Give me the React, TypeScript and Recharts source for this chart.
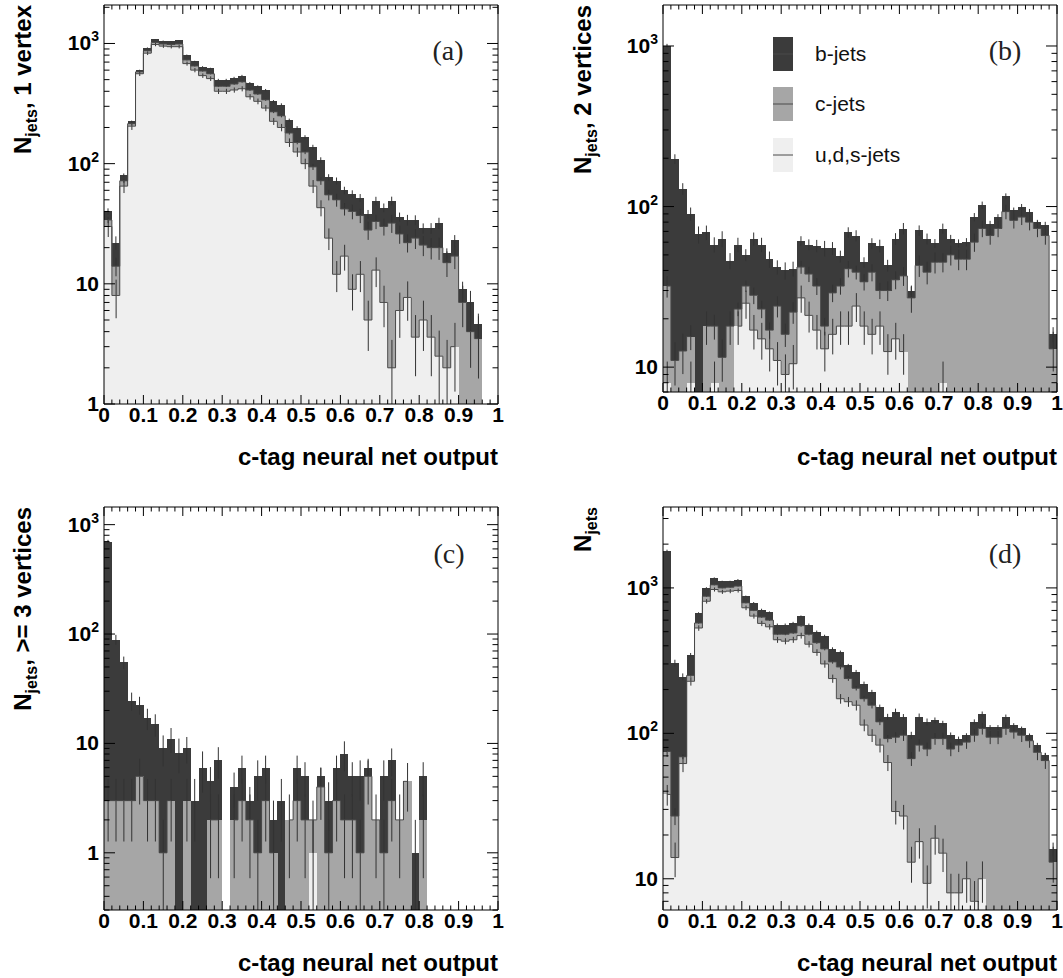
import React from 'react';
import { ComposedChart, Bar, Line, XAxis, YAxis, ErrorBar } from 'recharts';

const FONT = '"Liberation Sans", Arial, Helvetica, sans-serif';
const SERIF = '"Liberation Serif", "Times New Roman", serif';

const DARK = '#3b3b3b';
const MID = '#a6a6a6';
const LIGHT = '#efefef';
const EDGE = '#4a4a4a';

// 50 bins of width 0.02 along the c-tag output; ticks sit on bin edges
const bins = Array.from({ length: 50 }, (_, i) => i);
const xLabels = ['0', '0.1', '0.2', '0.3', '0.4', '0.5', '0.6', '0.7', '0.8', '0.9', '1'];

// stacked tops: all = b+c+uds, cl = c+uds, l = uds
const aAll = [40, 22, 80, 225, 600, 920, 1080, 1050, 1040, 1060, 800, 710, 640, 620, 500, 500, 520, 540, 470, 440,
  410, 330, 310, 230, 198, 166, 137, 107, 77, 72, 60, 56, 52, 38, 49, 43, 49, 36, 34, 34,
  29, 29, 32, 18, 23, 9, 7, 4.6, null, null];
const aCL = [34, 14, 72, 215, 580, 870, 1020, 990, 980, 990, 730, 650, 590, 560, 440, 440, 460, 480, 410, 380,
  340, 270, 250, 180, 150, 125, 94, 72, 55, 50, 42, 40, 37, 28, 33, 30, 32, 26, 22, 24,
  21, 20, 20, 15, 17, 7, 4, 3.5, null, null];
const aL = [30, 8, 65, 205, 560, 830, 980, 950, 940, 940, 680, 600, 540, 510, 400, 400, 410, 420, 360, 330,
  290, 225, 200, 150, 125, 100, 65, 43, 24, 12, 17, 9, 12, 5, 13, 7, 2, 6, 7.7, 3.6,
  5, 3.6, 2.5, 2, 3, null, null, null, null, null];

const bAll = [1000, 198, 129, 90, 67, 69, 58, 63, 46, 58, 50, 63, 58, 47, 42, 40, 41, 61, 58, 57,
  55, 55, 49, 69, 66, 45, 59, 57, 43, 63, 73, 30, 71, 63, 59, 73, 63, 59, 60, 86,
  102, 78, 86, 116, 95, 100, 93, 80, 77, 16];
const bCL = [32, 11, 12.6, 15.5, null, 18, 18, 11.5, 18, 23, 32, 28, 23, 17, 24, 16, 22, 42, 38, 32,
  18, 29, 32, 41, 39, 34, 39, 30, 30, 35, 37, 27, 43, 39, 45, 45, 50, 47, 47, 60,
  73, 66, 73, 93, 82, 86, 80, 73, 66, 13];
const bL = [8, null, null, 8, null, null, 8, null, null, 18, 25, 17, 15, 13, 11, 9, 10.5, 27, 21, 17,
  13, 16, 18, 18, 24, 18, 16, 18, 12.5, 15, 12.5, null, null, null, null, 8, null, null, null, null,
  null, null, null, null, null, null, null, null, null, null];

const cAll = [700, 89, 55, 24.5, 22.5, 17, 15, 9, 11, 8.2, 9, 3, 6, 4.5, 7, null, 4, 6, 3, 5,
  6, 2, 3, 2, 6, 5, 2, 5, 3, 6, 8, 5, 5, 6, 2, 5, 7, 2, 4.5, 1,
  5, null, null, null, null, null, null, null, null, null];
const cCL = [3, 3, 3, 3, 5, 3, 3, 1, 3, null, 3, null, null, 2, 2, null, 2, 3, 2, 1,
  3, 1, null, 2, 3, 2, 2, 4, 1, 3, 2, 2, 1, 5, 2, 1, 3, 2, 4.5, null,
  2, null, null, null, null, null, null, null, null, null];
const cL = [null, null, null, null, null, null, null, null, null, null, null, null, null, null, null, null, null, null, null, null,
  null, null, null, null, null, null, 1, null, null, null, null, null, null, null, null, null, null, null, null, null,
  null, null, null, null, null, null, null, null, null, null];

const dAll = [1790, 304, 245, 347, 670, 1000, 1170, 1110, 1110, 1140, 876, 790, 710, 680, 560, 560, 575, 637, 560, 500,
  467, 382, 362, 293, 265, 220, 193, 152, 130, 141, 130, 97, 130, 120, 123, 117, 97, 92, 97, 120,
  136, 110, 110, 130, 114, 108, 97, 83, 71, 16];
const dCL = [75, 27, 69, 250, 574, 876, 1050, 1000, 1010, 1030, 790, 700, 630, 600, 480, 480, 490, 550, 480, 420,
  381, 310, 286, 238, 204, 173, 156, 120, 92, 94, 97, 67, 83, 78, 92, 92, 78, 83, 87, 97,
  108, 94, 94, 108, 102, 97, 89, 74, 65, 13];
const dL = [38, 14, 62, 228, 530, 809, 975, 940, 950, 960, 730, 640, 570, 540, 440, 430, 440, 470, 410, 360,
  300, 238, 173, 165, 156, 114, 97, 83, 63, 29, 27, 13, 18, 9.3, 19, 15, 8, 8, 10, 7,
  10, null, null, null, null, null, null, null, null, null];

const logTicks = (lo: number, hi: number) => {
  const out: number[] = [];
  for (let e = Math.floor(Math.log10(lo)); e <= Math.ceil(Math.log10(hi)); e++) {
    for (let m = 1; m < 10; m++) {
      const v = Number((m * Math.pow(10, e)).toPrecision(3));
      if (v >= lo && v <= hi) out.push(v);
    }
  }
  return out;
};

const isDecade = (v: number) => Math.abs(Math.log10(v) - Math.round(Math.log10(v))) < 1e-9;

// poisson error of the layer's own count, drawn at the layer's top (kept inside the frame)
const err = (top: string, below: string | null, lo: number, hi: number) => (d: any) => {
  const p = d && d.payload ? d.payload : d;
  const v = p[top];
  if (v == null || v <= lo) return null;
  const n = v - (below ? p[below] ?? 0 : 0);
  if (n <= 0) return null;
  const e = Math.sqrt(n);
  return [Math.min(e, v - lo), Math.min(e, hi - v)];
};

// category ticks come at bin centres; shift by half a bin to draw them on the edges
const makeBottomTick = (bw: number) => ({ x, y, payload }: any) => {
  const i = payload.value as number;
  const edges = i === bins.length - 1 ? [i, i + 1] : [i];
  return (
    <g>
      {edges.map(k => {
        const ex = x + (k - i - 0.5) * bw;
        const major = k % 5 === 0;
        return (
          <g key={k}>
            <line x1={ex} x2={ex} y1={y} y2={y - (major ? 9 : 4.5)} stroke="#000" />
            {major && (
              <text x={ex} y={y + 18} textAnchor="middle" fontFamily={FONT} fontWeight="bold" fontSize={21} fill="#000">
                {xLabels[k / 5]}
              </text>
            )}
          </g>
        );
      })}
    </g>
  );
};

const makeTopTick = (bw: number) => ({ x, y, payload }: any) => {
  const i = payload.value as number;
  const edges = i === bins.length - 1 ? [i, i + 1] : [i];
  return (
    <g>
      {edges.map(k => {
        const ex = x + (k - i - 0.5) * bw;
        return <line key={k} x1={ex} x2={ex} y1={y} y2={y + (k % 5 === 0 ? 9 : 4.5)} stroke="#000" />;
      })}
    </g>
  );
};

const LeftTick = ({ x, y, payload }: any) => {
  const v = payload.value;
  const major = isDecade(v);
  const e = Math.round(Math.log10(v));
  return (
    <g>
      <line x1={x} x2={x + (major ? 11 : 5.5)} y1={y} y2={y} stroke="#000" />
      {major && (
        <text x={x - 5} y={y} dy={7} textAnchor="end" fontFamily={FONT} fontWeight="bold" fontSize={21} fill="#000">
          {e <= 1 ? String(v) : (
            <>
              10<tspan dy={-9} fontSize={14}>{e}</tspan>
            </>
          )}
        </text>
      )}
    </g>
  );
};

const RightTick = ({ x, y, payload }: any) => {
  const major = isDecade(payload.value);
  return <line x1={x} x2={x - (major ? 11 : 5.5)} y1={y} y2={y} stroke="#000" />;
};

interface PanelProps {
  left: number;
  top: number;
  width: number;
  height: number;
  plot: [number, number, number, number];
  domain: [number, number];
  all: (number | null)[];
  cl: (number | null)[];
  l: (number | null)[];
}

// axes need a non-zero size to be drawn; 1px each, taken back from the margins
const AX = 1;

const Panel: React.FC<PanelProps> = ({ left, top, width, height, plot, domain, all, cl, l }) => {
  const data = bins.map(i => ({ bin: i, all: all[i], cl: cl[i], l: l[i] }));
  const yTicks = logTicks(domain[0], domain[1]);
  const [lo, hi] = domain;
  const bw = (plot[2] - plot[0]) / bins.length;
  const margin = {
    left: plot[0] - left - AX,
    top: plot[1] - top - AX,
    right: left + width - plot[2] - AX,
    bottom: top + height - plot[3] - AX
  };
  return (
    <div style={{ position: 'absolute', left, top }}>
      <ComposedChart width={width} height={height} data={data} margin={margin} barCategoryGap={0} barGap="-100%">
        <XAxis xAxisId="cat" dataKey="bin" type="category" interval={0} height={AX} tickSize={0} tickMargin={0}
          tickLine={false} tick={makeBottomTick(bw)} axisLine={{ stroke: '#000' }} />
        <XAxis xAxisId="catTop" dataKey="bin" type="category" orientation="top" interval={0} height={AX}
          tickSize={0} tickMargin={0} tickLine={false} tick={makeTopTick(bw)} axisLine={{ stroke: '#000' }} />
        <YAxis yAxisId="y" type="number" scale="log" domain={domain} allowDataOverflow ticks={yTicks} interval={0}
          width={AX} tickSize={0} tickMargin={0} tickLine={false} tick={LeftTick} axisLine={{ stroke: '#000' }} />
        <YAxis yAxisId="yr" orientation="right" type="number" scale="log" domain={domain} allowDataOverflow
          ticks={yTicks} interval={0} width={AX} tickSize={0} tickMargin={0} tickLine={false} tick={RightTick}
          axisLine={{ stroke: '#000' }} />
        <Bar xAxisId="cat" yAxisId="y" dataKey="all" fill={DARK} isAnimationActive={false}>
          <ErrorBar dataKey={err('all', 'cl', lo, hi)} width={0} stroke="#333" strokeWidth={1} direction="y" />
        </Bar>
        <Bar xAxisId="cat" yAxisId="y" dataKey="cl" fill={MID} isAnimationActive={false}>
          <ErrorBar dataKey={err('cl', 'l', lo, hi)} width={0} stroke="#333" strokeWidth={1} direction="y" />
        </Bar>
        <Bar xAxisId="cat" yAxisId="y" dataKey="l" fill={LIGHT} isAnimationActive={false}>
          <ErrorBar dataKey={err('l', null, lo, hi)} width={0} stroke="#333" strokeWidth={1} direction="y" />
        </Bar>
        <Line xAxisId="cat" yAxisId="y" dataKey="cl" type="step" stroke={EDGE} strokeWidth={1} dot={false}
          activeDot={false} isAnimationActive={false} />
        <Line xAxisId="cat" yAxisId="y" dataKey="l" type="step" stroke={EDGE} strokeWidth={1} dot={false}
          activeDot={false} isAnimationActive={false} />
      </ComposedChart>
    </div>
  );
};

const YTitle = ({ x, y, rest }: { x: number; y: number; rest: string }) => (
  <text transform={`translate(${x},${y}) rotate(-90)`} textAnchor="end" fontFamily={FONT} fontWeight="bold"
    fontSize={24} fill="#000">
    N<tspan dy={6} fontSize={16}>jets</tspan><tspan dy={-6}>{rest}</tspan>
  </text>
);

const XTitle = ({ x, y }: { x: number; y: number }) => (
  <text x={x} y={y} textAnchor="end" fontFamily={FONT} fontWeight="bold" fontSize={24} fill="#000">
    c-tag neural net output
  </text>
);

const Letter = ({ x, y, t }: { x: number; y: number; t: string }) => (
  <text x={x} y={y} textAnchor="middle" fontFamily={SERIF} fontSize={28} fill="#222">{t}</text>
);

const legendItems = [
  { label: 'b-jets', fill: DARK, y: 37 },
  { label: 'c-jets', fill: MID, y: 87 },
  { label: 'u,d,s-jets', fill: LIGHT, y: 138 }
];

export default function App() {
  return (
    <div style={{ position: 'absolute', left: 0, top: 0, width: 1063, height: 978, background: '#fff', overflow: 'hidden' }}>
      <style>{`.recharts-bar-rectangle path { shape-rendering: crispEdges; }`}</style>
      <Panel left={0} top={0} width={530} height={490} plot={[104, 5, 498, 404]} domain={[1, 2090]} all={aAll} cl={aCL} l={aL} />
      <Panel left={530} top={0} width={533} height={490} plot={[663, 5, 1057, 392]} domain={[7, 1800]} all={bAll} cl={bCL} l={bL} />
      <Panel left={0} top={490} width={530} height={488} plot={[104, 507, 498, 910]} domain={[0.3, 1450]} all={cAll} cl={cCL} l={cL} />
      <Panel left={530} top={490} width={533} height={488} plot={[663, 507, 1057, 910]} domain={[6.1, 3600]} all={dAll} cl={dCL} l={dL} />
      <svg width={1063} height={978} style={{ position: 'absolute', left: 0, top: 0, pointerEvents: 'none' }}>
        <YTitle x={31} y={5} rest=", 1 vertex" />
        <YTitle x={591} y={5} rest=", 2 vertices" />
        <YTitle x={31} y={507} rest=", >= 3 vertices" />
        <YTitle x={591} y={507} rest="" />
        <XTitle x={498} y={465} />
        <XTitle x={1057} y={465} />
        <XTitle x={498} y={971} />
        <XTitle x={1057} y={971} />
        <Letter x={448} y={60} t="(a)" />
        <Letter x={1005} y={60} t="(b)" />
        <Letter x={449} y={563} t="(c)" />
        <Letter x={1005} y={563} t="(d)" />
        {legendItems.map(it => (
          <g key={it.label}>
            <rect x={773} y={it.y} width={20} height={34} fill={it.fill} />
            <line x1={773} x2={793} y1={it.y + 17} y2={it.y + 17} stroke={EDGE} strokeWidth={1} />
            <text x={815} y={it.y + 24} fontFamily={FONT} fontSize={21} fill="#111">{it.label}</text>
          </g>
        ))}
      </svg>
    </div>
  );
}
